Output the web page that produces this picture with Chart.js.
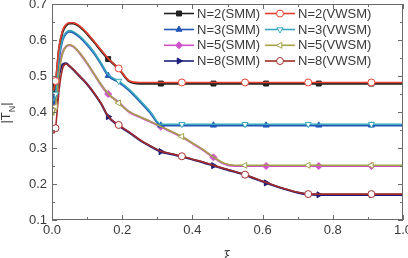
<!DOCTYPE html>
<html>
<head>
<meta charset="utf-8">
<script src="https://cdn.jsdelivr.net/npm/chart.js@4/dist/chart.umd.min.js"></script>
<style>
    html, body { margin: 0; padding: 0; background: #fff; }
    #wrap { width: 408px; height: 258px; }
</style>
</head>
<body>
<div id="wrap"><canvas id="chart" width="408" height="258"></canvas></div>
<script>
// shared xi grid
const xi = [0.004, 0.01, 0.02, 0.03, 0.04, 0.05, 0.06, 0.08, 0.10, 0.12, 0.14, 0.16, 0.19, 0.22, 0.25, 0.28, 0.31, 0.34,
    0.37, 0.40, 0.43, 0.46, 0.49, 0.52, 0.55, 0.58, 0.61, 0.64, 0.67, 0.70, 0.73, 0.76, 0.82, 0.91, 1.0];

const n2Smm = [0.450, 0.472, 0.575, 0.622, 0.640, 0.646, 0.646, 0.636, 0.617, 0.594, 0.570, 0.547, 0.520, 0.485, 0.479, 0.479, 0.479, 0.479,
    0.479, 0.479, 0.479, 0.479, 0.479, 0.479, 0.479, 0.479, 0.479, 0.479, 0.479, 0.479, 0.479, 0.479, 0.479, 0.479, 0.479];
const n2Vwsm = [0.460, 0.486, 0.580, 0.626, 0.643, 0.648, 0.648, 0.638, 0.619, 0.596, 0.572, 0.549, 0.521, 0.487, 0.482, 0.482, 0.482, 0.482,
    0.482, 0.482, 0.482, 0.482, 0.482, 0.482, 0.482, 0.482, 0.482, 0.482, 0.482, 0.482, 0.482, 0.482, 0.482, 0.482, 0.482];
const n3Smm = [0.420, 0.445, 0.550, 0.600, 0.618, 0.623, 0.621, 0.607, 0.587, 0.563, 0.533, 0.501, 0.483, 0.460, 0.430, 0.398, 0.363, 0.363,
    0.363, 0.363, 0.363, 0.363, 0.363, 0.363, 0.363, 0.363, 0.363, 0.363, 0.363, 0.363, 0.363, 0.363, 0.363, 0.363, 0.363];
const n3Vwsm = [0.430, 0.450, 0.553, 0.603, 0.621, 0.626, 0.624, 0.610, 0.590, 0.566, 0.536, 0.504, 0.486, 0.463, 0.433, 0.401, 0.366, 0.366,
    0.366, 0.366, 0.366, 0.366, 0.366, 0.366, 0.366, 0.366, 0.366, 0.366, 0.366, 0.366, 0.366, 0.366, 0.366, 0.366, 0.366];
const n5Smm = [0.410, 0.443, 0.520, 0.565, 0.582, 0.586, 0.582, 0.562, 0.535, 0.505, 0.475, 0.450, 0.427, 0.400, 0.386, 0.373, 0.359, 0.345,
    0.331, 0.313, 0.295, 0.274, 0.256, 0.250, 0.250, 0.250, 0.250, 0.250, 0.250, 0.250, 0.250, 0.250, 0.250, 0.250, 0.250];
const n5Vwsm = [0.390, 0.415, 0.510, 0.562, 0.582, 0.587, 0.583, 0.563, 0.536, 0.506, 0.476, 0.451, 0.425, 0.401, 0.387, 0.374, 0.360, 0.346,
    0.332, 0.314, 0.296, 0.275, 0.258, 0.252, 0.252, 0.252, 0.252, 0.252, 0.252, 0.252, 0.252, 0.252, 0.252, 0.252, 0.252];
const n8Smm = [0.410, 0.435, 0.500, 0.532, 0.535, 0.527, 0.518, 0.498, 0.477, 0.452, 0.423, 0.387, 0.362, 0.343, 0.322, 0.305, 0.290, 0.283,
    0.276, 0.268, 0.260, 0.251, 0.242, 0.234, 0.225, 0.214, 0.203, 0.193, 0.184, 0.176, 0.171, 0.170, 0.170, 0.170, 0.170];
const n8Vwsm = [0.340, 0.355, 0.460, 0.520, 0.533, 0.528, 0.519, 0.499, 0.478, 0.453, 0.424, 0.388, 0.364, 0.344, 0.323, 0.306, 0.291, 0.284,
    0.277, 0.269, 0.261, 0.252, 0.243, 0.235, 0.226, 0.215, 0.204, 0.194, 0.185, 0.177, 0.172, 0.172, 0.172, 0.172, 0.172];

// where the symbols sit
const smmMarks = [0.01, 0.16, 0.31, 0.46, 0.61, 0.76, 0.91];
const vwsmMarks = [0.01, 0.19, 0.37, 0.55, 0.73, 0.91];

const seriesLabels = ['N=2(SMM)', 'N=2(VWSM)', 'N=3(SMM)', 'N=3(VWSM)', 'N=5(SMM)', 'N=5(VWSM)', 'N=8(SMM)', 'N=8(VWSM)'];
const xTicks = [0, 0.2, 0.4, 0.6, 0.8, 1.0];
const yTicks = [0.1, 0.2, 0.3, 0.4, 0.5, 0.6, 0.7];

const font = '"Liberation Sans", Arial, sans-serif';
const textColor = '#3a3a3a';
const frameColor = '#6a6a6a';

function pts(ys) {
    return ys.map((y, i) => ({ x: xi[i], y }));
}

function series(label, ys, color, style, filled, rotation, marks, isVwsm) {
    return {
        label,
        data: pts(ys),
        borderColor: color,
        backgroundColor: filled ? color : '#ffffff',
        pointBorderColor: color,
        pointBackgroundColor: filled ? color : '#ffffff',
        borderWidth: isVwsm ? 1.6 : 2.2,
        pointStyle: style,
        rotation,
        pointBorderWidth: 1,
        pointRadius: (ctx) => (ctx.raw && marks.includes(ctx.raw.x) ? 3.5 : 0),
        pointHoverRadius: 0,
        cubicInterpolationMode: 'monotone',
        order: isVwsm ? 1 : 2,
    };
}

const datasets = [
    series(seriesLabels[0], n2Smm, '#222222', 'rect', true, 0, smmMarks, false),
    series(seriesLabels[1], n2Vwsm, '#e8402e', 'circle', false, 0, vwsmMarks, true),
    series(seriesLabels[2], n3Smm, '#2457b8', 'triangle', true, 0, smmMarks, false),
    series(seriesLabels[3], n3Vwsm, '#3aa9bd', 'triangle', false, 180, vwsmMarks, true),
    series(seriesLabels[4], n5Smm, '#d052c8', 'rectRot', true, 0, smmMarks, false),
    series(seriesLabels[5], n5Vwsm, '#a3a34a', 'triangle', false, 270, vwsmMarks, true),
    series(seriesLabels[6], n8Smm, '#1c1f7a', 'triangle', true, 90, smmMarks, false),
    series(seriesLabels[7], n8Vwsm, '#a52a2a', 'circle', false, 0, vwsmMarks, true),
];

// frame + inward ticks on all four sides
const framePlugin = {
    id: 'frame',
    afterDraw(chart) {
        const { ctx, chartArea: a, scales } = chart;
        ctx.save();
        ctx.strokeStyle = frameColor;
        ctx.lineWidth = 1;
        ctx.strokeRect(a.left + 0.5, a.top + 0.5, a.right - a.left - 1, a.bottom - a.top - 1);
        ctx.beginPath();
        for (let k = 0; k <= 10; k++) {
            const px = Math.round(scales.x.getPixelForValue(k / 10)) + 0.5;
            const len = k % 2 === 0 ? 5 : 3;
            ctx.moveTo(px, a.bottom); ctx.lineTo(px, a.bottom - len);
            ctx.moveTo(px, a.top); ctx.lineTo(px, a.top + len);
        }
        for (let k = 2; k <= 14; k++) {
            const py = Math.round(scales.y.getPixelForValue(k / 20)) + 0.5;
            const len = k % 2 === 0 ? 5 : 3;
            ctx.moveTo(a.left, py); ctx.lineTo(a.left + len, py);
            ctx.moveTo(a.right, py); ctx.lineTo(a.right - len, py);
        }
        ctx.stroke();

        // y axis title |T_N|
        ctx.fillStyle = textColor;
        ctx.translate(6, 113);
        ctx.rotate(-Math.PI / 2);
        ctx.textBaseline = 'middle';
        ctx.font = '13px ' + font;
        const w1 = ctx.measureText('|T').width;
        ctx.font = '9px ' + font;
        const w2 = ctx.measureText('N').width;
        ctx.font = '13px ' + font;
        const w3 = ctx.measureText('|').width;
        const x0 = -(w1 + w2 + w3) / 2;
        ctx.fillText('|T', x0, 0);
        ctx.font = '9px ' + font;
        ctx.fillText('N', x0 + w1, 7);
        ctx.font = '13px ' + font;
        ctx.fillText('|', x0 + w1 + w2, 0);
        ctx.restore();
    },
};

// two-column legend inside the plot
const legendPlugin = {
    id: 'boxLegend',
    afterDraw(chart) {
        const { ctx } = chart;
        const colLine = [164, 265];
        const rowY = [13.5, 29.5, 45.3, 61];
        ctx.save();
        chart.data.datasets.forEach((ds, i) => {
            const col = i % 2;
            const y = rowY[Math.floor(i / 2)];
            const x0 = colLine[col];
            ctx.strokeStyle = ds.borderColor;
            ctx.lineWidth = 1.6;
            ctx.beginPath();
            ctx.moveTo(x0, y);
            ctx.lineTo(x0 + 30, y);
            ctx.stroke();
            ctx.fillStyle = ds.pointBackgroundColor;
            ctx.strokeStyle = ds.pointBorderColor;
            ctx.lineWidth = 1;
            Chart.helpers.drawPoint(ctx, { pointStyle: ds.pointStyle, rotation: ds.rotation, radius: 3.5, borderWidth: 1 }, x0 + 15, y);
            ctx.fillStyle = textColor;
            ctx.font = '13px ' + font;
            ctx.textBaseline = 'middle';
            ctx.fillText(ds.label, x0 + 33, y + 0.5);
        });
        ctx.restore();
    },
};

new Chart(document.getElementById('chart'), {
    type: 'line',
    data: { datasets },
    plugins: [framePlugin, legendPlugin],
    options: {
        responsive: false,
        animation: false,
        events: [],
        layout: { padding: { top: 4, right: 5, left: 0, bottom: 0 } },
        plugins: { legend: { display: false }, tooltip: { enabled: false } },
        scales: {
            x: {
                type: 'linear',
                min: 0,
                max: 1,
                afterBuildTicks: (s) => { s.ticks = xTicks.map((v) => ({ value: v })); },
                grid: { display: false, drawTicks: false },
                border: { display: false },
                ticks: {
                    color: textColor,
                    font: { family: font, size: 13 },
                    padding: 3,
                    maxRotation: 0,
                    callback: (v) => v.toFixed(1),
                },
                title: {
                    display: true,
                    text: 'ξ',
                    color: textColor,
                    font: { family: '"DejaVu Serif", serif', size: 12 },
                    padding: { top: 0, bottom: -6 },
                },
                afterFit: (s) => { s.height = 38; s.paddingLeft = 0; s.paddingRight = 0; },
            },
            y: {
                type: 'linear',
                min: 0.1,
                max: 0.7,
                afterBuildTicks: (s) => { s.ticks = yTicks.map((v) => ({ value: v })); },
                grid: { display: false, drawTicks: false },
                border: { display: false },
                ticks: {
                    color: textColor,
                    font: { family: font, size: 13 },
                    padding: 5,
                    callback: (v) => v.toFixed(1),
                },
                afterFit: (s) => { s.width = 52; s.paddingTop = 0; s.paddingBottom = 0; },
            },
        },
    },
});
</script>
</body>
</html>
